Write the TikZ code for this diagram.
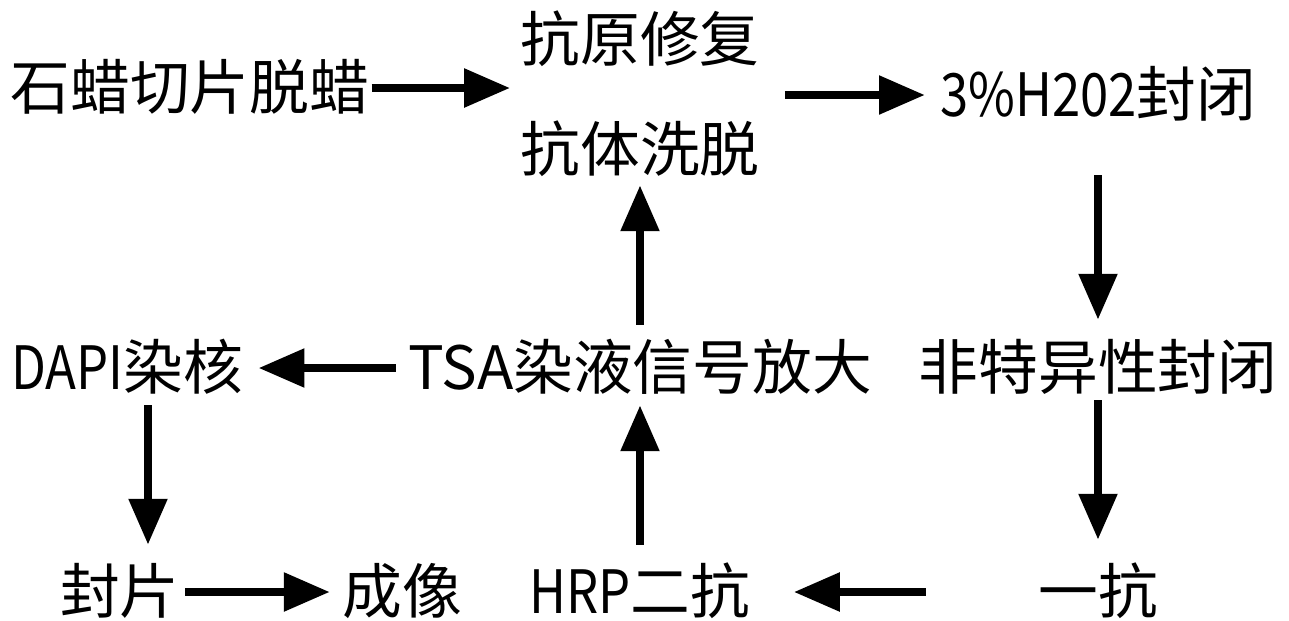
\documentclass[tikz,border=0pt]{standalone}
\usepackage{fontspec}
\setmainfont{Noto Sans CJK SC}
\newfontfamily\narrowlat[FakeStretch=0.85]{Noto Sans CJK SC}
\usetikzlibrary{arrows.meta}

\begin{document}
\begin{tikzpicture}[x=0.02cm, y=-0.02cm,
        lbl/.style={inner sep=0pt, text height=29pt, text depth=5pt,
            font=\fontsize{34}{40}\selectfont},
        arr/.style={line width=0.17cm, -{Triangle[length=0.92cm, width=0.74cm]}}]
        \useasboundingbox (0,0) rectangle (1289,620);
        % Steps:
        % Each step is a plain text node placed at its own coordinate:
        \node [lbl] (wax) at (190,88) {石蜡切片脱蜡};
        \node [lbl] (repair) at (640,40) {抗原修复};
        \node [lbl] (elute) at (640,150) {抗体洗脱};
        \node [lbl, anchor=west] (hoo) at (940,95) {{\narrowlat 3\%H202}封闭};
        \node [lbl] (block) at (1098,368) {非特异性封闭};
        \node [lbl] (primary) at (1098,592) {一抗};
        \node [lbl] (hrp) at (640,592) {{\narrowlat HRP}二抗};
        \node [lbl] (tsa) at (640,368) {TSA染液信号放大};
        \node [lbl, anchor=west] (dapi) at (11,368) {{\narrowlat DAPI}染核};
        \node [lbl] (mount) at (120,592) {封片};
        \node [lbl] (image) at (402,592) {成像};
        \coordinate (dm) at (148,0);

        % Arrows:
        % Thick lines with a big triangle tip, shortened to leave the gaps:
        \draw [arr, shorten <=0.04cm, shorten >=0.2cm] (wax.east) -- (wax.east -| repair.west);
        \draw [arr, shorten <=0.5cm, shorten >=0.3cm] (hoo.west -| repair.east) -- (hoo.west);
        \draw [arr, shorten <=1cm, shorten >=0.36cm] (hoo.south -| block.north) -- (block.north);
        \draw [arr, shorten <=0.04cm, shorten >=0.44cm] (block) -- (primary);
        \draw [arr, shorten <=2.24cm, shorten >=0.86cm] (primary) -- (hrp);
        \draw [arr, shorten <=0.34cm, shorten >=0.14cm] (hrp) -- (tsa);
        \draw [arr, shorten <=0.26cm, shorten >=0.1cm] (tsa) -- (elute);
        \draw [arr, shorten <=0.24cm, shorten >=0.3cm] (tsa) -- (dapi);
        \draw [arr, shorten <=0.14cm, shorten >=0.34cm] (dapi.south -| dm) -- (mount.north -| dm);
        \draw [arr, shorten <=0.1cm, shorten >=0.24cm] (mount) -- (image);
    \end{tikzpicture}
\end{document}
